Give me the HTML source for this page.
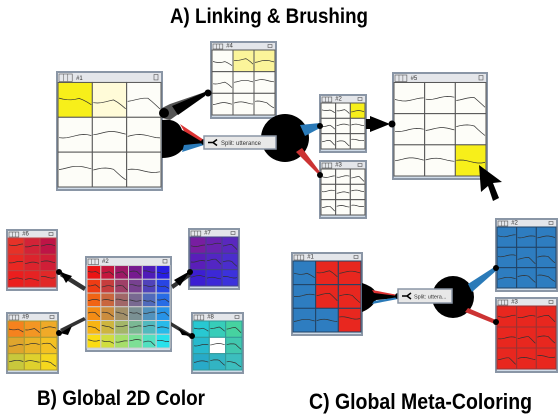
<!DOCTYPE html>
<html><head><meta charset="utf-8"><style>
html,body{margin:0;padding:0;background:#fff;width:558px;height:415px;overflow:hidden}
#c{position:absolute;left:0;top:0}
</style></head><body>
<svg id="c" width="558" height="415" xmlns="http://www.w3.org/2000/svg" font-family="Liberation Sans, sans-serif">
<g id="panels"></g>
<g id="conn">
<polygon points="162,108 170,104 205,92 205,95 170,120 162,118" fill="#555"/>
<polygon points="172,106 205,92 205,96 178,115" fill="#000"/>
<circle cx="164" cy="113" r="5" fill="#000"/>
<circle cx="208" cy="93" r="3.5" fill="#000"/>
<path d="M162,120 Q178,118 182,130 L204,141 L204,144 L182,150 Q175,158 162,158Z" fill="#000"/>
<polygon points="180,124 204,140 204,143 184,131" fill="#d33"/>
<polygon points="184,145 204,143 204,145 182,152" fill="#2a7ab8"/>
<circle cx="204" cy="142" r="3" fill="#000"/>
<circle cx="285" cy="138" r="24" fill="#000"/>
<polygon points="300,125 320,123 320,128 305,136" fill="#2a7ab8"/>
<polygon points="302,148 320,172 318,174 296,152" fill="#c33"/>
<circle cx="320" cy="126" r="3" fill="#000"/>
<circle cx="320" cy="175" r="3" fill="#000"/>
<rect x="366" y="119" width="4" height="10" fill="#000"/>
<polygon points="370,116 390,124 370,132" fill="#000"/>
<circle cx="392" cy="124" r="3.5" fill="#000"/>
<polygon points="479,165 502,182 493,183 499,198 493,201 488,186 481,192" fill="#000"/>
<polygon points="86,287 62,272 60,276 84,291" fill="#333"/>
<polygon points="60,272 72,276 66,283" fill="#000"/><circle cx="59" cy="272" r="3" fill="#000"/>
<polygon points="171,285 189,273 191,276 173,289" fill="#333"/>
<polygon points="190,271 180,286 174,280" fill="#000"/><circle cx="190" cy="272" r="3" fill="#000"/>
<polygon points="86,320 62,332 60,329 84,317" fill="#333"/>
<polygon points="60,333 72,326 68,335" fill="#000"/><circle cx="59" cy="333" r="3" fill="#000"/>
<polygon points="171,322 191,334 189,337 171,326" fill="#333"/>
<polygon points="192,336 178,328 182,335" fill="#000"/><circle cx="192" cy="336" r="3" fill="#000"/>
<path d="M362,283 Q372,286 376,292 L398,295 L398,298 L376,300 Q372,308 362,312Z" fill="#000"/>
<polygon points="372,290 398,295 398,296 374,293" fill="#d33"/>
<polygon points="374,301 398,297 398,299 372,304" fill="#2a7ab8"/>
<circle cx="398" cy="296" r="3" fill="#000"/>
<circle cx="453" cy="297" r="21" fill="#000"/>
<polygon points="468,284 496,266 497,270 472,292" fill="#2a7ab8"/>
<polygon points="468,308 496,320 495,324 465,312" fill="#c33"/>
<circle cx="496" cy="268" r="3" fill="#000"/>
<circle cx="496" cy="322" r="3" fill="#000"/>
</g>
<rect x="204" y="136" width="72" height="13" fill="#e8e8e8" stroke="#8a96a6" stroke-width="1.5"/>
<path d="M208,142.5 h5 l4,-3 M213,142.5 l4,3" stroke="#000" stroke-width="1.5" fill="none"/>
<text x="221" y="145" font-size="6" fill="#333">Split: utterance</text>
<rect x="398" y="289" width="54" height="14" fill="#e8e8e8" stroke="#8a96a6" stroke-width="1.5"/>
<path d="M402,296 h5 l4,-3 M407,296 l4,3" stroke="#000" stroke-width="1.5" fill="none"/>
<text x="414" y="298.5" font-size="5.5" fill="#333">Split: uttera...</text>
<text x="170" y="23" font-size="21" font-weight="bold" textLength="198" lengthAdjust="spacingAndGlyphs">A) Linking &amp; Brushing</text>
<text x="37" y="405" font-size="21" font-weight="bold" textLength="168" lengthAdjust="spacingAndGlyphs">B) Global 2D Color</text>
<text x="309" y="409" font-size="22" font-weight="bold" textLength="223" lengthAdjust="spacingAndGlyphs">C) Global Meta-Coloring</text>
</svg>
<script>
var NS="http://www.w3.org/2000/svg";
var G=document.getElementById('panels');
function el(t,a,p){var e=document.createElementNS(NS,t);for(var k in a)e.setAttribute(k,a[k]);(p||G).appendChild(e);return e;}
var seed=3;function rnd(){seed=(seed*9301+49297)%233280;return seed/233280;}
function panel(x,y,w,h,cols,rows,col,lab,gs){
 el('rect',{x:x,y:y,width:w,height:h,fill:'#eef0f4',stroke:'#8a96a6','stroke-width':2});
 var tb=Math.max(7,h*0.08);
 el('rect',{x:x+1,y:y+1,width:w-2,height:tb,fill:'#e4e6ea'});
 el('rect',{x:x+2,y:y+2,width:tb*1.4,height:tb-2,fill:'none',stroke:'#555','stroke-width':0.6});
 el('line',{x1:x+2+tb*0.47,y1:y+2,x2:x+2+tb*0.47,y2:y+tb,stroke:'#555','stroke-width':0.5});
 el('line',{x1:x+2+tb*0.93,y1:y+2,x2:x+2+tb*0.93,y2:y+tb,stroke:'#555','stroke-width':0.5});
 el('rect',{x:x+w-8,y:y+2.5,width:4,height:tb-4,fill:'none',stroke:'#555','stroke-width':0.6});
 var t=el('text',{x:x+tb*1.6+4,y:y+tb-1.5,'font-size':Math.min(6,tb-1),fill:'#333'});t.textContent=lab;
 var bx=x+1,by=y+1+tb,bw=w-2,bh=h-2-tb-2,cw=bw/cols,ch=bh/rows;
 el('rect',{x:bx,y:y+h-3,width:bw,height:2,fill:'#cfdbe8'});
 for(var r=0;r<rows;r++)for(var c=0;c<cols;c++){
  var cx=bx+c*cw,cy=by+r*ch;
  el('rect',{x:cx,y:cy,width:cw,height:ch,fill:col(r,c),stroke:gs||'#555','stroke-width':1});
  var d='',n=8,base=cy+ch*(0.4+rnd()*0.15),drop=rnd()<0.4;
  for(var i=0;i<=n;i++){var px=cx+1+i*(cw-2)/n,py=base+Math.sin(i*0.6+r+c)*ch*0.05+(drop&&i>n-3?ch*0.08*(i-n+3):0);d+=(i?'L':'M')+px.toFixed(1)+','+py.toFixed(1);}
  el('path',{d:d,fill:'none',stroke:'#333','stroke-width':0.7});
 }
}
var W='#fdfdf8',LY='#fffbd8',Y='#f7ef1a';
panel(57,72,105,118,3,3,function(r,c){return r==0&&c==0?Y:(r==0&&c==1?LY:W)},'#1');
panel(211,42,65,76,3,3,function(r,c){return r==0&&c>0?'#fbf49a':W},'#4');
panel(320,95,46,57,3,3,function(r,c){return r==0&&c==2?Y:W},'#2');
panel(320,161,46,57,3,3,function(){return W},'#3');
panel(393,73,94,106,3,3,function(r,c){return r==2&&c==2?Y:W},'#5');
function lerp(a,b,t){return a.map(function(v,i){return Math.round(v+(b[i]-v)*t)});}
function bil(r,c,R,C,tl,tr,bl,br){var u=C>1?c/(C-1):0,v=R>1?r/(R-1):0;var a=lerp(tl,tr,u),b=lerp(bl,br,u),m=lerp(a,b,v);return 'rgb('+m.join(',')+')';}
var TL=[235,20,20],TR=[40,30,225],BL=[250,220,20],BR=[40,225,235];
panel(86,257,85,94,6,6,function(r,c){return bil(r,c,6,6,TL,TR,BL,BR)},'#2','#ccc');
panel(7,230,50,60,3,3,function(r,c){return bil(r,c,3,3,[230,50,40],[190,20,70],[235,30,30],[225,40,40])},'#6','#b44');
panel(189,229,50,60,3,3,function(r,c){return bil(r,c,3,3,[120,30,160],[90,40,190],[60,30,210],[60,50,220])},'#7','#448');
panel(7,313,51,60,3,3,function(r,c){return bil(r,c,3,3,[245,130,30],[240,170,40],[200,200,60],[245,215,30])},'#9','#a93');
panel(192,313,51,60,3,3,function(r,c){return r==1&&c==1?'#fff':bil(r,c,3,3,[40,200,210],[70,210,160],[40,170,200],[60,190,190])},'#8','#399');
var B='#2e7dc0',R='#e8271f';
panel(292,253,70,82,3,3,function(r,c){return (c==0||(r==2&&c==1))?B:R},'#1','#246');
panel(496,219,61,72,3,3,function(){return B},'#2','#246');
panel(496,298,61,74,3,3,function(){return R},'#3','#933');
var svg=G.parentNode;
svg.appendChild(document.getElementById('conn'));
var kids=[].slice.call(svg.children).filter(function(k){return k!==G&&k.id!=='conn'});
kids.forEach(function(k){svg.appendChild(k)});
</script>
</body></html>
